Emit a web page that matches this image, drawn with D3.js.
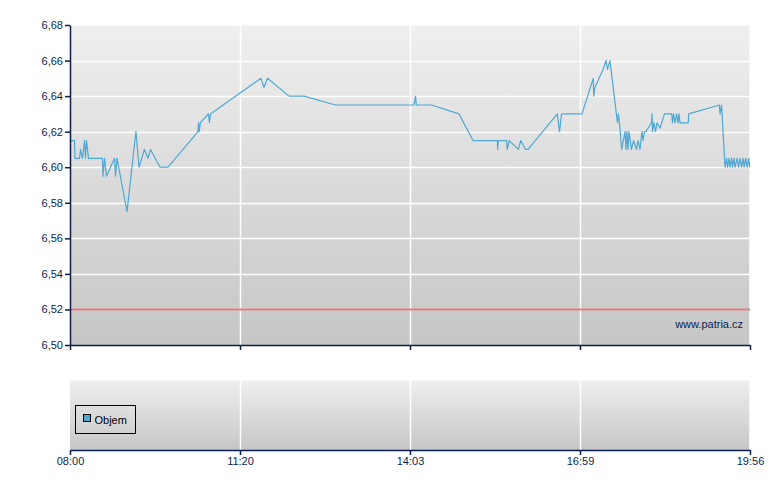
<!DOCTYPE html>
<html><head><meta charset="utf-8">
<script src="https://cdn.jsdelivr.net/npm/d3@7"></script>
<style>html,body{margin:0;padding:0;background:#fff}svg{display:block}</style>
</head><body><svg id="c" width="780" height="490"></svg>
<script>
// minutes after 08:00 for each trade
const minutes = [0.6,5.3,5.9,11.2,12.4,14.7,17.1,18.2,19.4,21.8,38.2,38.8,40.6,42.9,52.4,53.5,55.3,67.1,77.6,81.2,87.6,91.8,94.7,105.9,115.3,150.6,151.2,152.1,153.3,162.9,164.1,165.3,
220.1,223.0,226.4,247.0,261.4,291.6,367.1,368.7,369.5,385.3,413.7,428.2,453.4,453.8,454.4,463.1,463.7,465.8,475.1,477.6,482.6,485.2,515.5,517.8,519.9,
541.1,552.8,553.3,554.6,563.0,566.1,567.6,570.2,578.0,578.9,580.1,582.4,585.9,586.9,587.9,589.0,590.0,592.6,594.7,597.8,599.4,601.5,602.5,603.6,604.6,606.2,607.7,613.4,614.0,614.5,616.0,617.6,619.2,622.3,627.0,
634.5,635.3,636.4,637.9,639.5,641.1,642.1,643.2,651.8,652.2,684.1,684.8,686.4,690.0,691.6,692.6,694.2,695.2,696.8,697.9,699.4,700.5,702.6,704.2,705.7,707.3,708.9,709.9,711.5,713.0,714.6,715.7];
const prices = [6.615,6.615,6.605,6.605,6.61,6.605,6.615,6.605,6.615,6.605,6.605,6.595,6.605,6.595,6.605,6.595,6.605,6.575,6.62,6.60,6.61,6.605,6.61,6.60,6.60,6.62,6.625,6.62,6.625,6.63,6.625,6.63,
6.65,6.645,6.65,6.64,6.64,6.635,6.635,6.64,6.635,6.635,6.63,6.615,6.615,6.61,6.615,6.615,6.61,6.615,6.61,6.615,6.61,6.61,6.63,6.62,6.63,
6.63,6.65,6.64,6.645,6.655,6.66,6.655,6.66,6.625,6.63,6.625,6.61,6.62,6.61,6.62,6.61,6.62,6.61,6.615,6.61,6.615,6.61,6.615,6.62,6.615,6.62,6.62,6.625,6.63,6.62,6.625,6.62,6.625,6.622,6.63,
6.63,6.625,6.63,6.625,6.63,6.625,6.63,6.625,6.625,6.63,6.635,6.63,6.635,6.60,6.605,6.60,6.605,6.60,6.605,6.60,6.605,6.60,6.605,6.60,6.605,6.60,6.605,6.60,6.605,6.60,6.605,6.60];
const refPrice = 6.52;
const timeTicks = ["08:00","11:20","14:03","16:59","19:56"];
const priceTicks = [6.50,6.52,6.54,6.56,6.58,6.60,6.62,6.64,6.66,6.68];
const legendLabels = ["Objem"];

const svg = d3.select("#c");
const L=70,R=750,T1=25,B1=345,T2=380,B2=450;
const navy="#0b1f4f", lineCol="#4fa8d3", font="'Liberation Sans',Arial,sans-serif";
const base = new Date(2000,0,1,8,0,0);
const parseT = s=>{const [h,m]=s.split(":").map(Number);return new Date(2000,0,1,h,m,0);};
const tickDates = timeTicks.map(parseT);
const x = d3.scaleTime().domain(tickDates).range(d3.range(tickDates.length).map(i=>L+i*(R-L)/(tickDates.length-1)));
const y = d3.scaleLinear().domain([6.50,6.68]).range([B1,T1]);
const data = minutes.map((m,i)=>({t:new Date(base.getTime()+m*60000),v:prices[i]}));

const defs = svg.append("defs");
const g1 = defs.append("linearGradient").attr("id","bg").attr("x1",0).attr("y1",0).attr("x2",0).attr("y2",1);
g1.append("stop").attr("offset","0%").attr("stop-color","#efefef");
g1.append("stop").attr("offset","100%").attr("stop-color","#c6c6c6");

// panels
[[T1,B1],[T2,B2]].forEach(([t,b])=>{
  svg.append("rect").attr("x",L).attr("y",t).attr("width",R-L).attr("height",b-t).attr("fill","url(#bg)");
  svg.append("path").attr("d",`M${L},${t+0.5}H${R-0.5}V${b}`).attr("fill","none").attr("stroke","#f6f6f6").attr("stroke-width",1);
});

// grid
svg.append("g").selectAll("line").data(priceTicks.filter(v=>v>6.50&&v<6.68)).join("line")
  .attr("x1",L).attr("x2",R).attr("y1",d=>Math.round(y(d))+0.5).attr("y2",d=>Math.round(y(d))+0.5)
  .attr("stroke","#fff").attr("stroke-width",1.5);
[[T1,B1],[T2,B2]].forEach(([t,b])=>{
  svg.append("g").selectAll("line").data(tickDates.slice(1,-1)).join("line")
    .attr("x1",d=>Math.round(x(d))+0.5).attr("x2",d=>Math.round(x(d))+0.5).attr("y1",t).attr("y2",b)
    .attr("stroke","#fff").attr("stroke-width",1.5);
});

// reference line
svg.append("line").attr("x1",L).attr("x2",R).attr("y1",y(refPrice)).attr("y2",y(refPrice))
  .attr("stroke","#d97f7f").attr("stroke-width",2);

// price line
svg.append("path").datum(data).attr("fill","none").attr("stroke",lineCol).attr("stroke-width",1.2)
  .attr("stroke-linejoin","round")
  .attr("d",d3.line().x(d=>x(d.t)).y(d=>y(d.v)));

// axes
const fmt = d3.format(".2f");
const yAxis = svg.append("g").attr("transform",`translate(${L},0)`)
  .call(d3.axisLeft(y).tickValues(priceTicks).tickFormat(d=>fmt(d).replace(".",",")).tickSize(5).tickSizeOuter(0));
const xAxis1 = svg.append("g").attr("transform",`translate(0,${B1})`)
  .call(d3.axisBottom(x).tickValues(tickDates).tickFormat("").tickSize(5).tickSizeOuter(0));
const xAxis2 = svg.append("g").attr("transform",`translate(0,${B2})`)
  .call(d3.axisBottom(x).tickValues(tickDates).tickFormat((d,i)=>timeTicks[i]).tickSize(5).tickSizeOuter(0));
[yAxis,xAxis1,xAxis2].forEach(a=>{
  a.selectAll("path,line").attr("stroke",navy).attr("stroke-width",1.5);
  a.selectAll("text").attr("fill",navy).attr("font-family",font).attr("font-size",11);
});
yAxis.selectAll("text").attr("x",-7);
xAxis2.selectAll("text").attr("y",7);

// watermark
svg.append("text").attr("x",743).attr("y",328).attr("text-anchor","end").attr("fill",navy)
  .attr("font-family",font).attr("font-size",11).text("www.patria.cz");

// legend
const lg = svg.append("g").attr("transform","translate(75.5,405.5)");
lg.append("rect").attr("width",60).attr("height",28).attr("fill","none").attr("stroke","#000");
legendLabels.forEach((lab,i)=>{
  lg.append("rect").attr("x",8).attr("y",9).attr("width",7).attr("height",7).attr("fill",lineCol).attr("stroke","#000");
  lg.append("text").attr("x",19).attr("y",18).attr("fill","#000").attr("font-family",font).attr("font-size",11).text(lab);
});
</script></body></html>
